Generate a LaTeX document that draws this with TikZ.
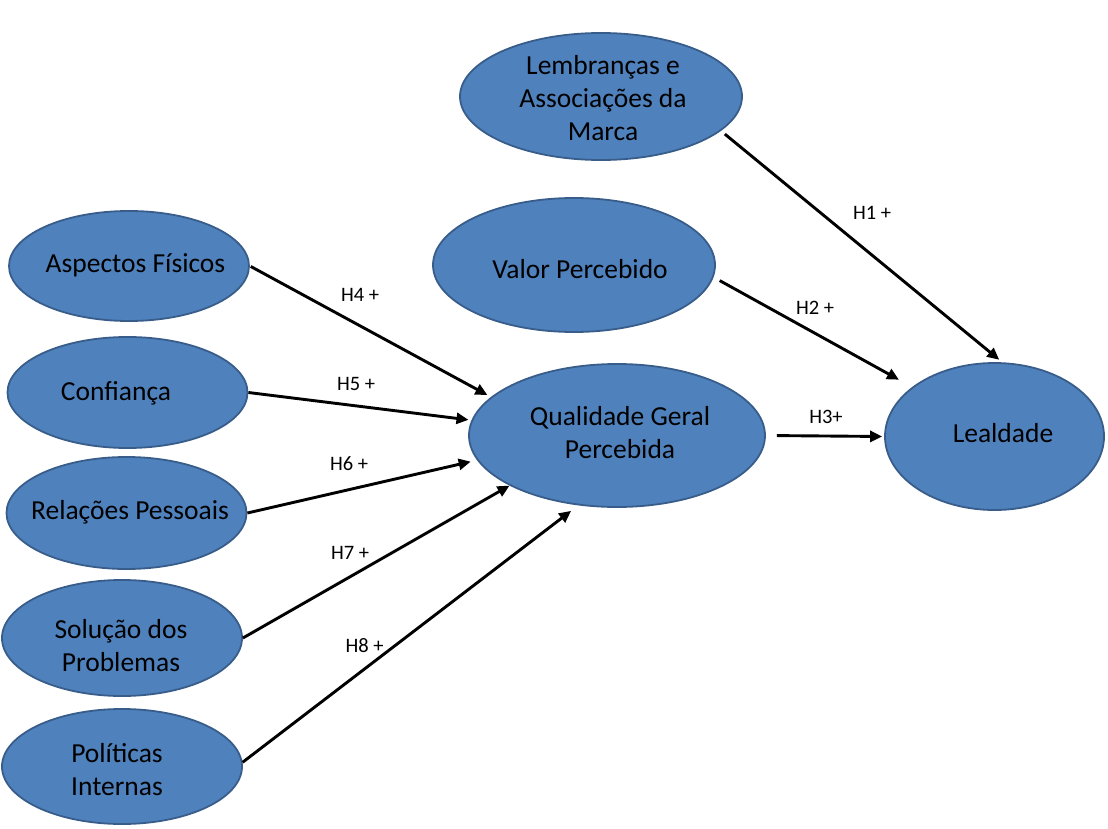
\documentclass[tikz,border=0pt]{standalone}
\usepackage{fontspec}
\setmainfont{Carlito}
\usepackage{tikz}
\usetikzlibrary{shapes.geometric,arrows.meta}

\definecolor{bubblefill}{HTML}{4F81BD}
\definecolor{bubbleline}{HTML}{385D8A}

\tikzset{
    bubble/.style 2 args={ellipse, draw=bubbleline, fill=bubblefill, line width=1.8pt,
        inner sep=0pt, minimum width=#1pt, minimum height=#2pt},
    txt/.style={font=\fontsize{27.5}{33}\selectfont, align=center, inner sep=0pt},
    hyp/.style={font=\fontsize{20.5}{24}\selectfont, inner sep=0pt},
    link/.style={-{Triangle[length=12pt,width=11pt]}, line width=2.9pt}
}

\begin{document}
\begin{tikzpicture}[x=1pt, y=-1pt]
        \useasboundingbox (0,0) rectangle (1108,829);

        \node (lem)  [bubble={282}{127}] at (601,96.5)    {};
        \node (val)  [bubble={282}{134}] at (574,265)     {};
        \node (asp)  [bubble={240}{110}] at (129,266)     {};
        \node (conf) [bubble={240}{111}] at (127.5,392.5) {};
        \node (rel)  [bubble={240}{112}] at (126.5,513)   {};
        \node (sol)  [bubble={240}{116}] at (122,638)     {};
        \node (pol)  [bubble={240}{115}] at (122,766.5)   {};
        \node (qual) [bubble={296}{143}] at (617,435.5)   {};
        \node (lea)  [bubble={219}{147}] at (994.5,436.5) {};

        \node (lemT)  [txt] at (603,98.5)  {Lembranças e\\Associações da\\Marca};
        \node (valT)  [txt] at (580,269)   {Valor Percebido};
        \node (aspT)  [txt] at (135.5,265) {Aspectos Físicos};
        \node (confT) [txt] at (116,393)   {Confiança};
        \node (relT)  [txt] at (130,512)   {Relações Pessoais};
        \node (solT)  [txt] at (121,646)   {Solução dos\\Problemas};
        \node (polT)  [txt] at (117,770)   {Políticas\\Internas};
        \node (qualT) [txt] at (620,432.5) {Qualidade Geral\\Percebida};
        \node (leaT)  [txt] at (1003,433)  {Lealdade};

        \draw [link, shorten <=5pt, shorten >=4pt]  (lem.-16.7) -- (lea.84.5);
        \draw [link, shorten <=7pt, shorten >=15pt] (val.-5.9)  -- (lea.149.8);
        \draw [link, shorten <=11pt, shorten >=2pt] (qual.east) -- (lea.west);
        \draw [link, shorten <=1pt, shorten >=4pt]  (asp.east)  -- (qual.163.5);
        \draw [link, shorten >=3pt]                 (conf.east) -- (qual.174.4);
        \draw [link, shorten >=6.5pt]               (rel.east)  -- (qual.190.8);
        \draw [link]                                (sol.east)  -- (qual.205.7);
        \draw [link, shorten >=9pt]                 (pol.2)     -- (qual.241.5);

        \node (h1) [hyp] at (872,213)   {H1 +};
        \node (h2) [hyp] at (815,308)   {H2 +};
        \node (h3) [hyp] at (826,417)   {H3+};
        \node (h4) [hyp] at (360,295)   {H4 +};
        \node (h5) [hyp] at (356,384)   {H5 +};
        \node (h6) [hyp] at (349,464)   {H6 +};
        \node (h7) [hyp] at (350,553)   {H7 +};
        \node (h8) [hyp] at (364.5,646) {H8 +};
\end{tikzpicture}
\end{document}
